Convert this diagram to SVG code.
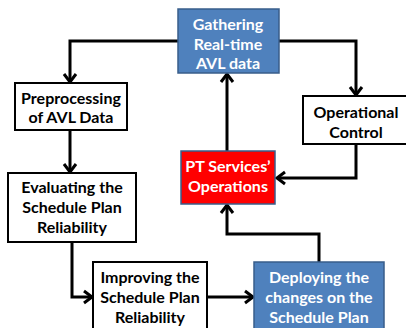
<svg xmlns="http://www.w3.org/2000/svg" width="406" height="328" viewBox="0 0 406 328">
  <defs>
    <style>
      .blue { fill: #4f81bd; stroke: #385d8a; stroke-width: 1.5; }
      .red { fill: #ff0000; stroke: #385d8a; stroke-width: 1.5; }
      .plain { fill: #ffffff; stroke: #000000; stroke-width: 2; }
      .lbl { font-family: Lato, "Liberation Sans", sans-serif; font-weight: bold; font-size: 16px; text-anchor: middle; }
      .dark { fill: #000000; }
      .light { fill: #ffffff; }
      .link { fill: none; stroke: #000000; stroke-width: 3; marker-end: url(#arrow); }
    </style>
    <marker id="arrow" markerUnits="userSpaceOnUse" markerWidth="16" markerHeight="16" refX="0" refY="0" viewBox="-10 -8 12 16" orient="auto">
      <polyline points="-8,-6 0,0 -8,6" fill="none" stroke="#000000" stroke-width="3"/>
    </marker>
  </defs>

  <g id="connectors">
    <path class="link" d="M178,41 H70 V82"/>
    <path class="link" d="M279,41 H356 V95"/>
    <path class="link" d="M227,151 V74"/>
    <path class="link" d="M356,144 V178 H277"/>
    <path class="link" d="M70,130 V172"/>
    <path class="link" d="M72,242 V297 H92"/>
    <path class="link" d="M207,297 H253"/>
    <path class="link" d="M319,262 V234 H227 V205"/>
  </g>

  <g id="gathering">
    <rect class="blue" x="178" y="9" width="101" height="64"/>
    <text class="lbl light" x="228" y="30">Gathering</text>
    <text class="lbl light" x="228" y="49.5">Real-time</text>
    <text class="lbl light" x="228" y="69">AVL data</text>
  </g>

  <g id="preprocessing">
    <rect class="plain" x="15" y="83" width="112" height="47"/>
    <text class="lbl dark" x="71" y="104">Preprocessing</text>
    <text class="lbl dark" x="71" y="123">of AVL Data</text>
  </g>

  <g id="operational-control">
    <rect class="plain" x="303" y="96" width="106" height="48"/>
    <text class="lbl dark" x="356" y="118">Operational</text>
    <text class="lbl dark" x="356" y="138">Control</text>
  </g>

  <g id="pt-operations">
    <rect class="red" x="181" y="151" width="94" height="53"/>
    <text class="lbl light" x="228" y="172">PT Services’</text>
    <text class="lbl light" x="228" y="192">Operations</text>
  </g>

  <g id="evaluating">
    <rect class="plain" x="8" y="173" width="128" height="69"/>
    <text class="lbl dark" x="72" y="193">Evaluating the</text>
    <text class="lbl dark" x="72" y="213">Schedule Plan</text>
    <text class="lbl dark" x="72" y="233">Reliability</text>
  </g>

  <g id="improving">
    <rect class="plain" x="93" y="262" width="114" height="72"/>
    <text class="lbl dark" x="150" y="283">Improving the</text>
    <text class="lbl dark" x="150" y="303">Schedule Plan</text>
    <text class="lbl dark" x="150" y="323">Reliability</text>
  </g>

  <g id="deploying">
    <rect class="blue" x="254" y="262" width="130" height="72"/>
    <text class="lbl light" x="319" y="283">Deploying the</text>
    <text class="lbl light" x="319" y="303">changes on the</text>
    <text class="lbl light" x="319" y="323">Schedule Plan</text>
  </g>
</svg>
